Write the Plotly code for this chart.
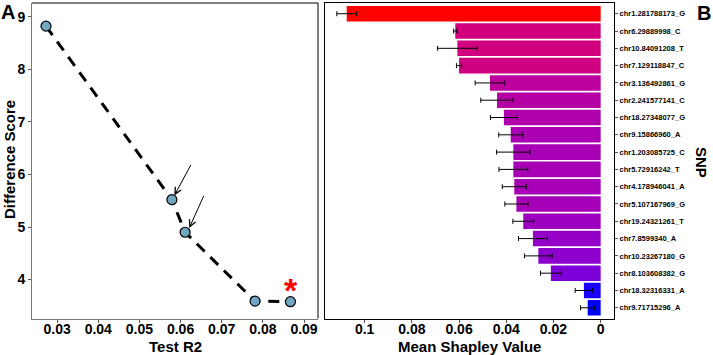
import plotly.graph_objects as go

# ---------------- data ----------------
test_r2 = [0.0273, 0.0579, 0.0611, 0.0781, 0.0867]
diff_score = [8.82, 5.52, 4.90, 3.59, 3.58]

snps = ["chr1.281788173_G", "chr6.29889998_C", "chr10.84091208_T", "chr7.129118847_C",
        "chr3.136492861_G", "chr2.241577141_C", "chr18.27348077_G", "chr9.15866960_A",
        "chr1.203085725_C", "chr5.72916242_T", "chr4.178946041_A", "chr5.107167969_G",
        "chr19.24321261_T", "chr7.8599340_A", "chr10.23267180_G", "chr8.103608382_G",
        "chr18.32316331_A", "chr9.71715296_A"]
shap_mean = [0.1076, 0.0616, 0.0607, 0.0600, 0.0469, 0.0439, 0.0410, 0.0381, 0.0370,
             0.0370, 0.0366, 0.0357, 0.0328, 0.0287, 0.0264, 0.0211, 0.0071, 0.0055]
shap_err = [0.0042, 0.0007, 0.0084, 0.0011, 0.0063, 0.0069, 0.0057, 0.0051, 0.0071,
            0.0061, 0.0051, 0.0049, 0.0044, 0.0061, 0.0059, 0.0044, 0.0037, 0.0030]

x_ticks_a = [0.03, 0.04, 0.05, 0.06, 0.07, 0.08, 0.09]
y_ticks_a = [4, 5, 6, 7, 8, 9]
x_ticks_b = [0, 0.02, 0.04, 0.06, 0.08, 0.1]
x_ticklabels_b = ["0", "0.02", "0.04", "0.06", "0.08", "0.1"]

# ---------------- Lab colour ramp blue -> red (like ggplot gradient) ----------------
def srgb_to_lab(c):
    def lin(u):
        u = u / 255
        return u / 12.92 if u <= 0.04045 else ((u + 0.055) / 1.055) ** 2.4
    r, g, b = (lin(v) for v in c)
    X = 0.4124 * r + 0.3576 * g + 0.1805 * b
    Y = 0.2126 * r + 0.7152 * g + 0.0722 * b
    Z = 0.0193 * r + 0.1192 * g + 0.9505 * b
    xn, yn, zn = 0.95047, 1.0, 1.08883
    def f(t):
        return t ** (1 / 3) if t > 0.008856 else 7.787 * t + 16 / 116
    fx, fy, fz = f(X / xn), f(Y / yn), f(Z / zn)
    return (116 * fy - 16, 500 * (fx - fy), 200 * (fy - fz))

def lab_to_srgb(lab):
    L, a, b = lab
    fy = (L + 16) / 116
    fx = fy + a / 500
    fz = fy - b / 200
    def finv(t):
        return t ** 3 if t ** 3 > 0.008856 else (t - 16 / 116) / 7.787
    xn, yn, zn = 0.95047, 1.0, 1.08883
    X, Y, Z = xn * finv(fx), yn * finv(fy), zn * finv(fz)
    r = 3.2406 * X - 1.5372 * Y - 0.4986 * Z
    g = -0.9689 * X + 1.8758 * Y + 0.0415 * Z
    bb = 0.0557 * X - 0.2040 * Y + 1.0570 * Z
    def gam(u):
        u = max(0.0, min(1.0, u))
        return 12.92 * u if u <= 0.0031308 else 1.055 * u ** (1 / 2.4) - 0.055
    return "rgb(%d,%d,%d)" % tuple(round(255 * gam(v)) for v in (r, g, bb))

lab_lo = srgb_to_lab((0, 0, 255))
lab_hi = srgb_to_lab((255, 0, 0))
n_stops = 21
colorscale = []
for i in range(n_stops):
    t = i / (n_stops - 1)
    lab = tuple(lab_lo[k] + (lab_hi[k] - lab_lo[k]) * t for k in range(3))
    colorscale.append([t, lab_to_srgb(lab)])

FONT = "Liberation Sans, Arial, sans-serif"

fig = go.Figure()

# Panel A
fig.add_trace(go.Scatter(
    x=test_r2, y=diff_score, mode="lines+markers",
    line=dict(color="black", width=3, dash="11px,8px"),
    marker=dict(size=10, color="#71a7c0", line=dict(color="black", width=1.2)),
    xaxis="x", yaxis="y", showlegend=False, hoverinfo="skip"))

# Panel B
fig.add_trace(go.Bar(
    x=shap_mean, y=snps, orientation="h", width=0.9,
    marker=dict(color=shap_mean, colorscale=colorscale,
                cmin=min(shap_mean), cmax=max(shap_mean), line=dict(width=0)),
    error_x=dict(type="data", array=shap_err, color="black", thickness=1, width=2.5),
    xaxis="x2", yaxis="y2", showlegend=False, hoverinfo="skip"))

tickfont = dict(family=FONT, size=14, color="black", weight="bold")

fig.update_layout(
    width=713, height=355,
    margin=dict(l=0, r=0, t=0, b=0, autoexpand=False),
    paper_bgcolor="white", plot_bgcolor="white",
    xaxis=dict(domain=[32 / 713, 318 / 713], range=[0.0239, 0.0934],
               tickvals=x_ticks_a, ticktext=[str(v) for v in x_ticks_a],
               showgrid=False, zeroline=False, showline=True, linecolor="#777",
               linewidth=1, ticks="outside", ticklen=3, tickcolor="#555",
               tickfont=tickfont, anchor="y", automargin=False, ticklabelstandoff=-5),
    yaxis=dict(domain=[1 - 318.5 / 355, 1 - 3 / 355], range=[3.26, 9.26],
               tickvals=y_ticks_a, showgrid=False, zeroline=False, showline=True,
               linecolor="#777", linewidth=1, ticks="outside", ticklen=3,
               tickcolor="#555", tickfont=tickfont, anchor="x", automargin=False),
    xaxis2=dict(domain=[325 / 713, 614 / 713], range=[0.1168, -0.00565],
                autorange=False,
                tickvals=x_ticks_b, ticktext=x_ticklabels_b,
                showgrid=False, zeroline=False, showline=True, linecolor="black",
                linewidth=1, mirror=True, ticks="outside", ticklen=3, tickcolor="#555",
                tickfont=tickfont, anchor="y2", automargin=False, ticklabelstandoff=-5),
    yaxis2=dict(domain=[1 - 318.5 / 355, 1 - 3 / 355], side="right",
                categoryorder="array", categoryarray=snps, range=[17.62, -0.62],
                showgrid=False, zeroline=False, showline=True, linecolor="black",
                linewidth=1, mirror=True, ticks="outside", ticklen=3, tickcolor="#555",
                tickfont=dict(family=FONT, size=7.5, color="black", weight="bold"),
                anchor="x2", automargin=False),
    shapes=[
        dict(type="line", xref="x domain", yref="y domain", x0=0, x1=1, y0=1, y1=1,
             line=dict(color="black", width=1)),
        dict(type="line", xref="x domain", yref="y domain", x0=1, x1=1, y0=0, y1=1,
             line=dict(color="black", width=1)),
    ],
)

def paper_ann(text, x, y, size, angle=0, color="black"):
    fig.add_annotation(text=text, xref="paper", yref="paper", x=x / 713, y=1 - y / 355,
                       xanchor="center", yanchor="middle", showarrow=False,
                       textangle=angle,
                       font=dict(family=FONT, size=size, color=color, weight="bold"))

paper_ann("A", 8, 12, 20)
paper_ann("B", 704, 13, 20)
paper_ann("Difference Score", 9, 160, 15, angle=-90)
paper_ann("Test R2", 175, 346, 15)
paper_ann("Mean Shapley Value", 469, 346, 15)
paper_ann("SNP", 702, 162, 15, angle=90)

# asterisk marking the chosen model
fig.add_annotation(text="*", x=test_r2[-1] + 0.0002, y=diff_score[-1] + 0.34, xref="x", yref="y",
                   showarrow=False, yanchor="middle", yshift=-6,
                   font=dict(family=FONT, size=34, color="red", weight="bold"))

# arrows pointing to two points
arrow_tails = [(0.0627, 6.21), (0.0658, 5.62)]
arrow_heads = [(0.0585, 5.60), (0.0621, 4.98)]
for (tx, ty), (hx, hy) in zip(arrow_tails, arrow_heads):
    fig.add_annotation(x=hx, y=hy, ax=tx, ay=ty, xref="x", yref="y", axref="x", ayref="y",
                       text="", showarrow=True, arrowhead=5, arrowsize=1.3,
                       arrowwidth=1, arrowcolor="black")

fig.write_html("out.html", config={"displayModeBar": False},
               post_script="document.body.style.margin='0px';document.body.style.overflow='hidden';")
